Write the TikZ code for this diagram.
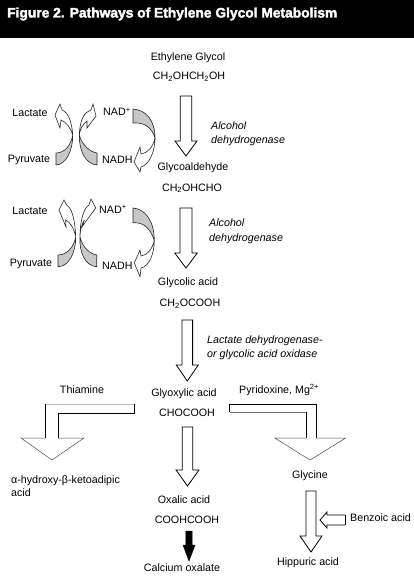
\documentclass[tikz,border=0pt]{standalone}
\usepackage{fontspec}
\setmainfont{Liberation Sans}
\newfontfamily\titlefont[BoldFeatures={FakeBold=2.4}]{Liberation Sans}
\usetikzlibrary{positioning, calc}

% straight block arrow pointing down: start, end, half shaft, half head, head length
\newcommand{\flowdown}[6][flow]{%
  \draw[#1] let \p1=(#2), \p2=(#3) in
    (\x1-#4pt,\y1) -- (\x1-#4pt,\y2+#6pt) -- (\x1-#5pt,\y2+#6pt) -- (\x1,\y2)
    -- (\x1+#5pt,\y2+#6pt) -- (\x1+#4pt,\y2+#6pt) -- (\x1+#4pt,\y1) -- cycle;}
\newcommand{\chem}[1]{\textsubscript{#1}}

\begin{document}
\begin{tikzpicture}[
    x = 1pt, y = -1pt,
    lbl/.style = {inner sep=0pt, anchor=base, font=\fontsize{10.7}{12}\selectfont},
    lblw/.style = {lbl, anchor=base west},
    enz/.style = {lblw, font=\fontsize{10.7}{12}\selectfont\itshape},
    flow/.style = {draw=black, fill=white, line width=0.8pt, line join=miter},
    solid arrow/.style = {draw=black, fill=black, line width=0.5pt},
    wedge/.style = {draw=black!85, fill=black!22, line width=0.6pt},
    curl/.style = {draw=black!85, fill=white, line width=0.6pt},
    head/.style = {draw=black!70, line width=0.5pt}
]
    \useasboundingbox (0,0) rectangle (414,580);
    \fill[black] (0,0) rectangle (414,38);
    \node[inner sep=0pt, anchor=base west, text=white] (TITLE) at (7,17.5)
        {\resizebox{330pt}{!}{\titlefont\bfseries\fontsize{12}{14}\selectfont Figure 2. Pathways of Ethylene Glycol Metabolism}};

    % main pathway
    \node[lbl] (EG) at (188,61) {Ethylene Glycol};
    \node[lbl] (EGf) at (189,79.5) {CH\chem{2}OHCH\chem{2}OH};
    \node[lbl] (GA) at (193,171) {Glycoaldehyde};
    \node[lbl] (GAf) at (192,191) {CH\chem{2}OHCHO};
    \node[lbl] (GE) at (188,285) {Glycolic acid};
    \node[lbl] (GEf) at (190,306.7) {CH\chem{2}OCOOH};
    \node[lbl] (GX) at (184,396) {Glyoxylic acid};
    \node[lbl] (GXf) at (187,416.7) {CHOCOOH};
    \node[lbl] (OX) at (184,503) {Oxalic acid};
    \node[lbl] (OXf) at (187,523.7) {COOHCOOH};
    \node[lbl] (CA) at (182,571) {Calcium oxalate};

    % enzymes and cofactors
    \node[enz] (ADH1a) at (211,130) {Alcohol};
    \node[enz] (ADH1b) at (211,144) {dehydrogenase};
    \node[enz] (ADH2a) at (209,226.7) {Alcohol};
    \node[enz] (ADH2b) at (209,241) {dehydrogenase};
    \node[enz] (LDHa) at (207,343) {Lactate dehydrogenase-};
    \node[enz] (LDHb) at (207,357.7) {or glycolic acid oxidase};
    \node[lbl] (THI) at (82,393) {Thiamine};
    \node[lblw] (PYR) at (239,393) {Pyridoxine, Mg\textsuperscript{2+}};

    % side products
    \node[lblw] (KAa) at (11,483) {α-hydroxy-β-ketoadipic};
    \node[lblw] (KAb) at (11,496.7) {acid};
    \node[lbl] (GY) at (310,478) {Glycine};
    \node[lbl] (HA) at (308,565.6) {Hippuric acid};
    \node[lblw] (BA) at (350,521) {Benzoic acid};
    \coordinate (BAtip) at (320,520);

    % cofactor cycles
    \node[lbl] (LAC1) at (30,116.5) {Lactate};
    \node[lbl] (PV1) at (29,163) {Pyruvate};
    \node[lblw] (NAD1) at (103,116) {NAD\textsuperscript{+}};
    \node[lblw] (NADH1) at (102,164) {NADH};
    \node[lbl] (LAC2) at (30,214) {Lactate};
    \node[lbl] (PV2) at (31,266) {Pyruvate};
    \node[lblw] (NAD2) at (99,213) {NAD\textsuperscript{+}};
    \node[lblw] (NADH2) at (102,269) {NADH};

    % straight arrows
    \flowdown{[shift={(-3,16.5)}]EGf.base}{[shift={(0,-15)}]GA.base}{5.7}{11}{15}
    \flowdown{[shift={(-6,17)}]GAf.base}{[shift={(0,-17)}]GE.base}{6}{11.3}{15}
    \flowdown{[shift={(-2.7,13.3)}]GEf.base}{[shift={(0,-15)}]GX.base}{5.3}{11}{16}
    \flowdown{[shift={(0.5,10.3)}]GXf.base}{[shift={(0,-17)}]OX.base}{5.2}{11.5}{16}
    \flowdown[solid arrow]{[shift={(2,7.3)}]OXf.base}{[shift={(0,-10)}]CA.base}{3.2}{6}{16}
    \flowdown{[shift={(1,13)}]GY.base}{[shift={(0,-13.6)}]HA.base}{5}{11}{16}

    % benzoic acid joins
    \draw[flow] ([shift={(-5,-6)}]BA.base west) -- (327,515) -- (327,512) -- (BAtip) -- (327,528)
        -- (327,525) -- ([shift={(-5,4)}]BA.base west);
    \draw[line width=0.8pt] ([shift={(-5,-6)}]BA.base west) -- ([shift={(-5,4)}]BA.base west);

    % bent arrow to the left
    \draw[black!25, line width=0.9pt] (134,404.3) -- (45,404.3);
    \draw[line width=0.8pt] (134,404) -- (134,413) -- (58,413) -- (58,438);
    \draw[line width=0.8pt] (45,404) -- (45,438);
    \draw[head] (45,438) -- (21,438) -- (52,460) -- (84,438) -- (58,438);

    % bent arrow to the right
    \draw[line width=0.8pt] (229.5,412) -- (229.5,404) -- (316,404) -- (316,438);
    \draw[black!55, line width=0.8pt] (229.5,412) -- (306,412);
    \draw[line width=0.8pt] (306,412) -- (306,438);
    \draw[head] (306,438) -- (274.7,438) -- (310,460) -- (345.7,438) -- (316,438);

    % first cycle
    \draw[curl] (72.7,135) .. controls (72,122) and (68,112) .. (62,110) -- (60,104) -- (55,115)
        -- (60,128) -- (61,120) .. controls (66,122) and (71,128) .. (72.7,135);
    \draw[wedge] (72.7,135) .. controls (71,145) and (65,153) .. (56,153) -- (56,165)
        .. controls (66,165) and (73,150) .. (72.7,135);
    \draw[curl] (79.3,135) .. controls (80,118) and (85,112) .. (91,110) -- (93,104) -- (96,116)
        -- (87,128) -- (87,121) .. controls (83,124) and (80,129) .. (79.3,135);
    \draw[wedge] (79.3,135) .. controls (82,145) and (90,152) .. (97,153) -- (97,165)
        .. controls (85,164) and (79,150) .. (79.3,135);
    \draw[wedge] (133,109) .. controls (146,110) and (155,120) .. (155,138)
        .. controls (152,128) and (145,122) .. (133,123) -- cycle;
    \draw[curl] (155,138) .. controls (155,152) and (149,165) .. (141,167) -- (140,172) -- (134,162)
        -- (140,147) -- (141,154) .. controls (148,153) and (153,147) .. (155,138);

    % second cycle
    \draw[curl] (75.7,236.7) .. controls (75,220) and (72,208) .. (66.7,205) -- (64,200) -- (59,210)
        -- (66,227) -- (65.7,220) .. controls (70,222) and (74,228) .. (75.7,236.7);
    \draw[wedge] (75.7,236.7) .. controls (74,247) and (67,255) .. (58,255) -- (58,266.7)
        .. controls (69,266.7) and (76,252) .. (75.7,236.7);
    \draw[curl] (80,236.7) .. controls (80,220) and (84,208) .. (89,205) -- (91,199) -- (95.7,208)
        -- (82,226.7) -- (84.3,220) .. controls (82,224) and (80,230) .. (80,236.7);
    \draw[wedge] (80,236.7) .. controls (82,247) and (90,254) .. (96.7,255) -- (96.7,266.7)
        .. controls (85,266) and (79,252) .. (80,236.7);
    \draw[wedge] (133,208) .. controls (146,209) and (154.3,222) .. (154.3,240.7)
        .. controls (151,230) and (145,222) .. (133,222.7) -- cycle;
    \draw[curl] (154.3,240.7) .. controls (154,255) and (149,266) .. (141,268) -- (140,276.7) -- (134.3,263)
        -- (140,250) -- (141,256) .. controls (148,255) and (152,249) .. (154.3,240.7);
\end{tikzpicture}
\end{document}
